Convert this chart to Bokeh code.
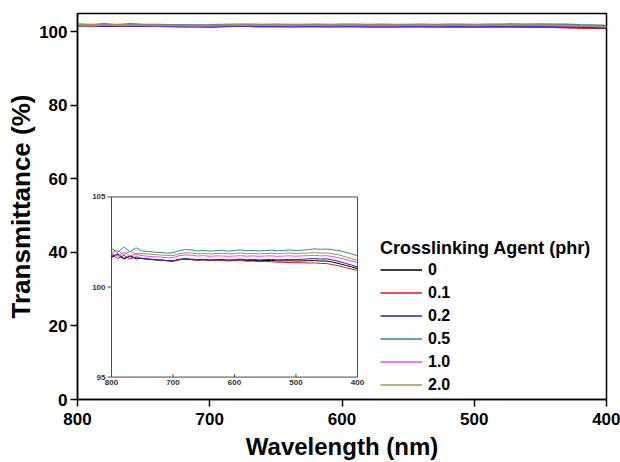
from bokeh.plotting import figure
from bokeh.models import Range1d, Legend, LegendItem, FixedTicker
from bokeh.embed import file_html
from bokeh.resources import INLINE
import math

# ---------------- data ----------------
wavelength = [800, 790, 780, 770, 760, 750, 740, 730, 720, 710,
              700, 690, 680, 670, 660, 650, 640, 630, 620, 610,
              600, 590, 580, 570, 560, 550, 540, 530, 520, 510,
              500, 490, 480, 470, 460, 450, 440, 430, 420, 410, 400]

t_0 = [101.65, 101.80, 101.55, 101.72, 101.60, 101.58, 101.54, 101.51, 101.49, 101.46,
       101.44, 101.51, 101.54, 101.52, 101.49, 101.51, 101.48, 101.50, 101.49, 101.47,
       101.49, 101.51, 101.47, 101.48, 101.46, 101.47, 101.47, 101.45, 101.45, 101.46,
       101.44, 101.45, 101.46, 101.47, 101.44, 101.44, 101.38, 101.30, 101.21, 101.12, 101.02]

t_01 = [101.82, 101.58, 101.76, 101.56, 101.68, 101.58, 101.55, 101.52, 101.50, 101.46,
        101.45, 101.52, 101.55, 101.52, 101.50, 101.51, 101.47, 101.49, 101.48, 101.45,
        101.46, 101.47, 101.43, 101.44, 101.41, 101.42, 101.40, 101.38, 101.37, 101.36,
        101.34, 101.35, 101.33, 101.34, 101.31, 101.30, 101.24, 101.17, 101.08, 101.00, 100.92]

t_02 = [101.70, 101.84, 101.60, 101.70, 101.56, 101.60, 101.55, 101.52, 101.50, 101.47,
        101.44, 101.54, 101.58, 101.55, 101.52, 101.54, 101.50, 101.52, 101.53, 101.50,
        101.52, 101.55, 101.51, 101.53, 101.50, 101.52, 101.53, 101.51, 101.52, 101.54,
        101.52, 101.54, 101.56, 101.58, 101.55, 101.56, 101.50, 101.42, 101.32, 101.22, 101.10]

t_05 = [102.14, 101.92, 102.22, 101.96, 102.18, 102.00, 101.97, 101.93, 101.92, 101.88,
        101.90, 102.02, 102.08, 102.06, 102.00, 102.03, 101.99, 102.02, 102.04, 101.99,
        102.03, 102.06, 102.01, 102.03, 102.00, 102.02, 102.05, 102.01, 102.03, 102.06,
        102.02, 102.05, 102.07, 102.12, 102.09, 102.11, 102.06, 102.03, 101.93, 101.84, 101.74]

t_10 = [101.88, 101.70, 101.94, 101.73, 101.82, 101.74, 101.70, 101.68, 101.66, 101.63,
        101.62, 101.74, 101.78, 101.76, 101.72, 101.74, 101.70, 101.73, 101.72, 101.70,
        101.72, 101.74, 101.71, 101.73, 101.70, 101.72, 101.73, 101.70, 101.72, 101.73,
        101.71, 101.73, 101.74, 101.76, 101.73, 101.74, 101.69, 101.62, 101.54, 101.45, 101.36]

t_20 = [101.92, 102.02, 101.80, 101.98, 101.84, 101.86, 101.82, 101.80, 101.78, 101.75,
        101.74, 101.85, 101.90, 101.88, 101.85, 101.86, 101.83, 101.86, 101.87, 101.84,
        101.86, 101.88, 101.85, 101.86, 101.84, 101.86, 101.88, 101.85, 101.87, 101.88,
        101.86, 101.87, 101.89, 101.91, 101.88, 101.89, 101.84, 101.78, 101.68, 101.58, 101.48]

series_labels = ["0", "0.1", "0.2", "0.5", "1.0", "2.0"]
series_values = [t_0, t_01, t_02, t_05, t_10, t_20]
series_colors = ["#000000", "#e3141c", "#1c1ce0", "#2e8c8a", "#ff44ff", "#9a9a3c"]

main_x_ticks = [800, 700, 600, 500, 400]
main_y_ticks = [0, 20, 40, 60, 80, 100]
inset_x_ticks = [800, 700, 600, 500, 400]
inset_x_tick_labels = ["800", "700", "600", "500", "400"]
inset_y_ticks = [95, 100, 105]
inset_y_tick_labels = ["95", "100", "105"]

legend_title = "Crosslinking Agent (phr)"
x_label = "Wavelength (nm)"
y_label = "Transmittance (%)"

# ---------------- layout / style ----------------
FONT = "Liberation Sans"
MAIN_X = (800, 400)
MAIN_Y = (0, 105)
INSET_X = (800, 400)
INSET_Y = (95, 105)
# where the inset sits, expressed in the main chart's data space
INSET_X_TARGET = (774.3, 588.3)
INSET_Y_TARGET = (6.1, 55.1)

p = figure(width=620, height=462, output_backend="svg", toolbar_location=None,
           x_range=Range1d(*MAIN_X), y_range=Range1d(*MAIN_Y),
           min_border_left=77, min_border_right=14, min_border_top=13,
           min_border_bottom=62)
p.background_fill_color = "white"
p.border_fill_color = "white"
p.outline_line_color = "black"
p.outline_line_width = 1.5
p.outline_line_alpha = 1.0
p.xgrid.visible = False
p.ygrid.visible = False

p.xaxis.ticker = FixedTicker(ticks=main_x_ticks)
p.yaxis.ticker = FixedTicker(ticks=main_y_ticks)
for ax in (p.xaxis[0], p.yaxis[0]):
    ax.axis_line_width = 1.5
    ax.axis_line_color = "black"
    ax.major_tick_line_width = 1.5
    ax.major_tick_line_color = "black"
    ax.major_tick_out = 7
    ax.major_tick_in = 0
    ax.minor_tick_line_color = None
    ax.major_label_text_font = FONT
    ax.major_label_text_font_size = "17px"
    ax.major_label_text_font_style = "bold"
    ax.major_label_text_color = "black"
    ax.axis_label_text_font = FONT
    ax.axis_label_text_font_style = "bold"
    ax.axis_label_text_color = "black"
p.xaxis.axis_label = x_label
p.yaxis.axis_label = y_label
p.xaxis.axis_label_text_font_size = "24px"
p.yaxis.axis_label_text_font_size = "26px"
p.xaxis.major_label_standoff = 6
p.xaxis.axis_label_standoff = 5
p.yaxis.major_label_standoff = 3
p.yaxis.axis_label_standoff = 0

main_renderers = []
for vals, col in zip(series_values, series_colors):
    r = p.line(wavelength, vals, line_color=col, line_width=1.6)
    main_renderers.append(r)

# ---------------- inset ----------------
inset = p.subplot(x_source=Range1d(*INSET_X), y_source=Range1d(*INSET_Y),
                  x_target=Range1d(*INSET_X_TARGET), y_target=Range1d(*INSET_Y_TARGET))

inset.quad(left=[INSET_X[0]], right=[INSET_X[1]], bottom=[INSET_Y[0]], top=[INSET_Y[1]],
           fill_alpha=0, line_color="#4a4a4a", line_width=1)

for vals, col in zip(series_values, series_colors):
    inset.line(wavelength, vals, line_color=col, line_width=1)

# y ticks (outward, left) and x ticks (inward, up)
inset.ray(x=[INSET_X[0]] * len(inset_y_ticks), y=inset_y_ticks, length=4,
          length_units="screen", angle=math.pi, line_color="#4a4a4a", line_width=1)
inset.ray(x=inset_x_ticks, y=[INSET_Y[0]] * len(inset_x_ticks), length=3,
          length_units="screen", angle=math.pi / 2, line_color="#4a4a4a", line_width=1)

inset.text(x=[INSET_X[0]] * len(inset_y_ticks), y=inset_y_ticks, text=inset_y_tick_labels,
           x_offset=-6, text_align="right", text_baseline="middle",
           text_font={"value": FONT}, text_font_size={"value": "8px"},
           text_font_style="bold", text_color="#333333")
inset.text(x=inset_x_ticks, y=[INSET_Y[0]] * len(inset_x_ticks), text=inset_x_tick_labels,
           y_offset=3, text_align="center", text_baseline="top",
           text_font={"value": FONT}, text_font_size={"value": "8px"},
           text_font_style="bold", text_color="#333333")

# ---------------- legend ----------------
legend = Legend(
    items=[LegendItem(label=lab, renderers=[r]) for lab, r in zip(series_labels, main_renderers)],
    location=(303, 4), title=legend_title,
    title_text_font=FONT, title_text_font_size="18px", title_text_font_style="bold",
    title_text_color="black", title_standoff=0,
    label_text_font=FONT, label_text_font_size="16px", label_text_font_style="bold",
    label_text_color="black",
    glyph_width=42, glyph_height=21, label_height=21, label_standoff=6, spacing=2,
    padding=0, margin=0, border_line_alpha=0, background_fill_alpha=0,
)
p.add_layout(legend)

open("out.html", "w").write(file_html(p, INLINE))
